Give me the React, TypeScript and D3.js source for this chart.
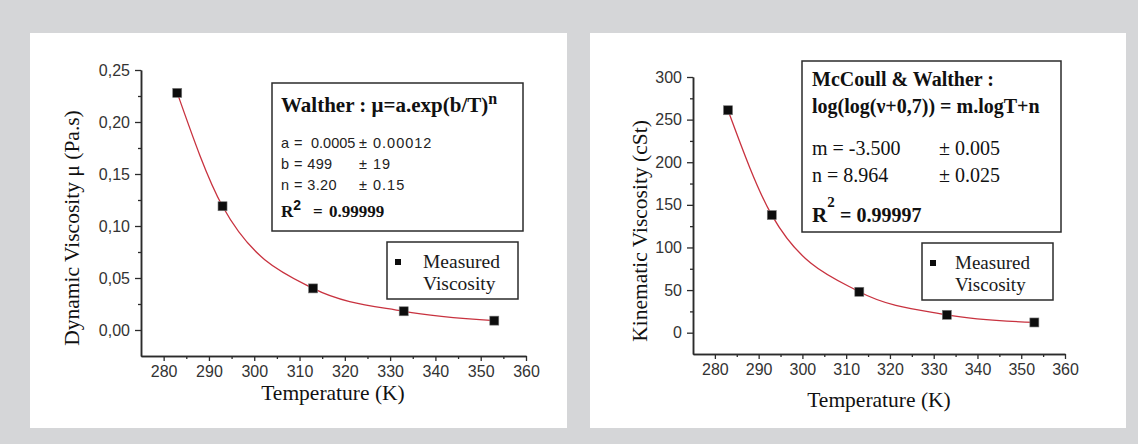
import React, { useEffect, useRef } from 'react'
import * as d3 from 'd3'

// measured points (K)
const temperatures = [283, 293, 313, 333, 353]
const dynamicViscosity = [0.228, 0.119, 0.04, 0.018, 0.009]
const kinematicViscosity = [261, 138, 48, 21, 12]

const tempTicks = [280, 290, 300, 310, 320, 330, 340, 350, 360]
const tempMinorTicks = [285, 295, 305, 315, 325, 335, 345, 355]
const dynamicTicks = [0, 0.05, 0.1, 0.15, 0.2, 0.25]
const dynamicMinorTicks = [0.025, 0.075, 0.125, 0.175, 0.225]
const kinematicTicks = [0, 50, 100, 150, 200, 250, 300]
const kinematicMinorTicks = [25, 75, 125, 175, 225, 275]

const SERIF = '"Liberation Serif", "Times New Roman", serif'
const SANS = '"Liberation Sans", Arial, sans-serif'
const INK = '#2b2b2b'
const FIT = '#c8323f'

const commaFmt = d3.formatLocale({ decimal: ',', thousands: '.', grouping: [3], currency: ['', ''] }).format('.2f')

type Panel = {
  xRange: [number, number]
  yDomain: [number, number]
  yRange: [number, number]
  values: number[]
  yTicks: number[]
  yMinor: number[]
  yFormat: (d: any) => string
  yTitle: string
  yTitlePos: [number, number]
  xTitlePos: [number, number]
  legend: { x: number; y: number; w: number; h: number; mx: number; my: number; tx: number; size: number }
}

function drawPanel(svg: d3.Selection<SVGSVGElement, unknown, null, undefined>, p: Panel) {
  const x = d3.scaleLinear().domain([275, 360]).range(p.xRange)
  const y = d3.scaleLinear().domain(p.yDomain).range(p.yRange)
  const g = svg.append('g')

  const styleAxis = (sel: any) => {
    sel.select('.domain').attr('stroke', INK).attr('stroke-width', 1.5)
    sel.selectAll('.tick line').attr('stroke', INK).attr('stroke-width', 1.3)
    sel.selectAll('.tick text').attr('fill', '#333').style('font-family', SANS).style('font-size', '16px')
  }

  g.append('g')
    .attr('transform', `translate(0,${p.yRange[0]})`)
    .call(d3.axisBottom(x).tickValues(tempMinorTicks).tickSize(3).tickSizeOuter(0).tickFormat(() => ''))
    .call(styleAxis)
  g.append('g')
    .attr('transform', `translate(0,${p.yRange[0]})`)
    .call(d3.axisBottom(x).tickValues(tempTicks).tickSize(5).tickPadding(5).tickSizeOuter(0))
    .call(styleAxis)

  g.append('g')
    .attr('transform', `translate(${p.xRange[0]},0)`)
    .call(d3.axisLeft(y).tickValues(p.yMinor).tickSize(3).tickSizeOuter(0).tickFormat(() => ''))
    .call(styleAxis)
  g.append('g')
    .attr('transform', `translate(${p.xRange[0]},0)`)
    .call(d3.axisLeft(y).tickValues(p.yTicks).tickSize(6).tickPadding(5).tickSizeOuter(0).tickFormat(p.yFormat))
    .call(styleAxis)

  // axis titles
  g.append('text')
    .attr('transform', `translate(${p.yTitlePos[0]},${p.yTitlePos[1]}) rotate(-90)`)
    .attr('text-anchor', 'middle')
    .attr('dy', '0.35em')
    .style('font-family', SERIF).style('font-size', '21.5px').attr('fill', '#111')
    .text(p.yTitle)
  g.append('text')
    .attr('x', p.xTitlePos[0]).attr('y', p.xTitlePos[1])
    .attr('text-anchor', 'middle')
    .style('font-family', SERIF).style('font-size', '21.5px').attr('fill', '#111')
    .text('Temperature (K)')

  const pts = temperatures.map((t, i) => [t, p.values[i]] as [number, number])
  const line = d3.line<[number, number]>()
    .x(d => x(d[0]))
    .y(d => y(d[1]))
    .curve(d3.curveMonotoneX)

  g.append('path')
    .attr('d', line(pts))
    .attr('fill', 'none')
    .attr('stroke', FIT)
    .attr('stroke-width', 1.3)

  g.selectAll('rect.pt')
    .data(pts)
    .enter()
    .append('rect')
    .attr('class', 'pt')
    .attr('x', d => x(d[0]) - 4.5)
    .attr('y', d => y(d[1]) - 4.5)
    .attr('width', 9)
    .attr('height', 9)
    .attr('fill', '#0d0d0d')
    .attr('stroke', '#777')
    .attr('stroke-width', 0.6)

  // legend
  const L = p.legend
  g.append('rect')
    .attr('x', L.x).attr('y', L.y).attr('width', L.w).attr('height', L.h)
    .attr('fill', 'white').attr('stroke', INK).attr('stroke-width', 1.5)
  g.append('rect')
    .attr('x', L.mx - 3).attr('y', L.my - 3).attr('width', 6).attr('height', 6)
    .attr('fill', '#0d0d0d')
  ;['Measured', 'Viscosity'].forEach((s, i) => {
    g.append('text')
      .attr('x', L.tx).attr('y', L.my + 6 + i * 22)
      .style('font-family', SERIF).style('font-size', `${L.size}px`).attr('fill', '#1a1a1a')
      .text(s)
  })
}

const App = () => {
  const ref = useRef<SVGSVGElement>(null)

  useEffect(() => {
    const svg = d3.select(ref.current as SVGSVGElement)
    svg.selectAll('*').remove()

    svg.append('rect').attr('width', 1138).attr('height', 444).attr('fill', '#d5d6d8')
    svg.append('rect').attr('x', 30).attr('y', 33).attr('width', 537).attr('height', 395).attr('fill', 'white')
    svg.append('rect').attr('x', 590).attr('y', 33).attr('width', 536).attr('height', 395).attr('fill', 'white')

    drawPanel(svg, {
      xRange: [141, 526],
      yDomain: [-0.025, 0.25],
      yRange: [356, 70],
      values: dynamicViscosity,
      yTicks: dynamicTicks,
      yMinor: dynamicMinorTicks,
      yFormat: (d: number) => commaFmt(d),
      yTitle: 'Dynamic Viscosity μ (Pa.s)',
      yTitlePos: [71, 228],
      xTitlePos: [333, 400],
      legend: { x: 387, y: 242, w: 131, h: 57, mx: 398, my: 262, tx: 423, size: 19.5 },
    })

    drawPanel(svg, {
      xRange: [693, 1065],
      yDomain: [-25, 300],
      yRange: [354, 77],
      values: kinematicViscosity,
      yTicks: kinematicTicks,
      yMinor: kinematicMinorTicks,
      yFormat: (d: number) => String(d),
      yTitle: 'Kinematic Viscosity (cSt)',
      yTitlePos: [639, 231],
      xTitlePos: [879, 407],
      legend: { x: 922, y: 243, w: 131, h: 57, mx: 933, my: 263, tx: 955, size: 19 },
    })

    // Walther fit box (left)
    const b1 = svg.append('g')
    b1.append('rect').attr('x', 272).attr('y', 83).attr('width', 251).attr('height', 148)
      .attr('fill', 'white').attr('stroke', INK).attr('stroke-width', 1.5)
    const t1 = b1.append('text').attr('x', 281).attr('y', 112)
      .style('font-family', SERIF).style('font-size', '21px').style('font-weight', 'bold').attr('fill', '#111')
    t1.append('tspan').text('Walther : μ=a.exp(b/T)')
    t1.append('tspan').attr('dy', -8).style('font-size', '16px').text('n')
    const rows1 = [
      ['a =', '0.0005', '± 0.00012'],
      ['b = 499', '', '± 19'],
      ['n = 3.20', '', '± 0.15'],
    ]
    const rowText = (s: string, xPos: number, yPos: number, ls: number) =>
      b1.append('text').attr('x', xPos).attr('y', yPos)
        .style('font-family', SANS).style('font-size', '14.5px').style('letter-spacing', `${ls}px`).attr('fill', '#222')
        .text(s)
    rows1.forEach((r, i) => {
      const yy = 148 + i * 21
      rowText(r[0], 281, yy, 0.4)
      if (r[1]) rowText(r[1], 311, yy, 0)
      rowText(r[2], 359, yy, 1)
    })
    const r1 = b1.append('text').attr('x', 281).attr('y', 217)
      .style('font-family', SERIF).style('font-size', '17px').style('font-weight', 'bold').attr('fill', '#111')
    r1.append('tspan').text('R')
    r1.append('tspan').attr('dy', -7).style('font-family', SANS).style('font-size', '14px').text('2')
    r1.append('tspan').attr('x', 313).attr('dy', 7).text('=')
    r1.append('tspan').attr('x', 329).text('0.99999')

    // McCoull & Walther box (right)
    const b2 = svg.append('g')
    b2.append('rect').attr('x', 802).attr('y', 61).attr('width', 259).attr('height', 171)
      .attr('fill', 'white').attr('stroke', INK).attr('stroke-width', 1.5)
    b2.append('text').attr('x', 812).attr('y', 86)
      .style('font-family', SERIF).style('font-size', '20px').style('font-weight', 'bold').attr('fill', '#111')
      .text('McCoull & Walther :')
    b2.append('text').attr('x', 812).attr('y', 113)
      .style('font-family', SERIF).style('font-size', '20px').style('font-weight', 'bold').attr('fill', '#111')
      .text('log(log(ν+0,7)) = m.logT+n')
    const rows2 = [
      ['m = -3.500', '± 0.005'],
      ['n = 8.964', '± 0.025'],
    ]
    rows2.forEach((r, i) => {
      b2.append('text').attr('x', 812).attr('y', 155 + i * 27)
        .style('font-family', SERIF).style('font-size', '20px').attr('fill', '#111')
        .text(r[0])
      b2.append('text').attr('x', 939).attr('y', 155 + i * 27)
        .style('font-family', SERIF).style('font-size', '20px').attr('fill', '#111')
        .text(r[1])
    })
    const r2 = b2.append('text').attr('x', 812).attr('y', 222)
      .style('font-family', SERIF).style('font-size', '21px').style('font-weight', 'bold').attr('fill', '#111')
    r2.append('tspan').text('R')
    r2.append('tspan').attr('dy', -15).style('font-size', '15px').text('2')
    r2.append('tspan').attr('x', 840).attr('dy', 15).style('font-size', '20px').text('= 0.99997')
  }, [])

  return (
    <svg ref={ref} width={1138} height={444} style={{ position: 'absolute', left: 0, top: 0 }} />
  )
}

export default App
